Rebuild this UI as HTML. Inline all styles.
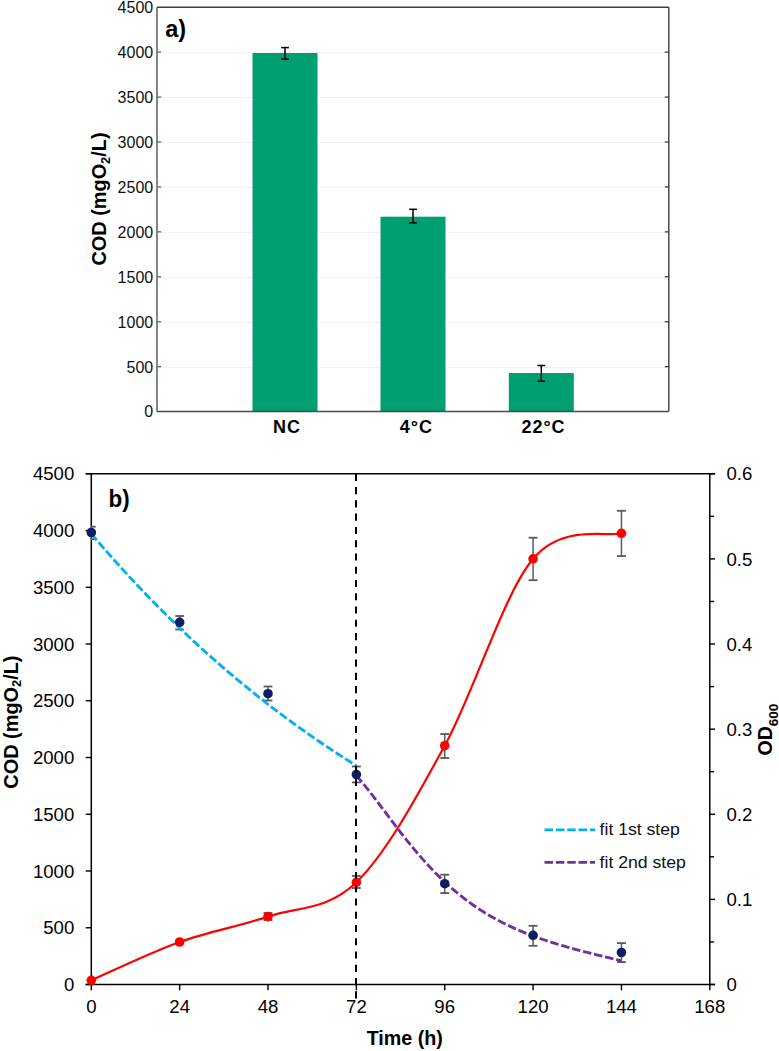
<!DOCTYPE html>
<html><head><meta charset="utf-8"><style>
html,body{margin:0;padding:0;background:#fff;}
svg{display:block;font-family:"Liberation Sans", sans-serif;}
</style></head><body>
<svg width="779" height="1051" viewBox="0 0 779 1051">
<rect width="779" height="1051" fill="#fff"/>
<line x1="158.0" y1="367.5" x2="667.8" y2="367.5" stroke="#e4e4e4" stroke-width="1" stroke-dasharray="1 1"/>
<line x1="158.0" y1="322.5" x2="667.8" y2="322.5" stroke="#e4e4e4" stroke-width="1" stroke-dasharray="1 1"/>
<line x1="158.0" y1="277.5" x2="667.8" y2="277.5" stroke="#e4e4e4" stroke-width="1" stroke-dasharray="1 1"/>
<line x1="158.0" y1="232.5" x2="667.8" y2="232.5" stroke="#e4e4e4" stroke-width="1" stroke-dasharray="1 1"/>
<line x1="158.0" y1="187.5" x2="667.8" y2="187.5" stroke="#e4e4e4" stroke-width="1" stroke-dasharray="1 1"/>
<line x1="158.0" y1="142.5" x2="667.8" y2="142.5" stroke="#e4e4e4" stroke-width="1" stroke-dasharray="1 1"/>
<line x1="158.0" y1="97.5" x2="667.8" y2="97.5" stroke="#e4e4e4" stroke-width="1" stroke-dasharray="1 1"/>
<line x1="158.0" y1="52.5" x2="667.8" y2="52.5" stroke="#e4e4e4" stroke-width="1" stroke-dasharray="1 1"/>
<rect x="252.5" y="53.0" width="65.0" height="358.6" fill="#009f72"/>
<rect x="380.5" y="216.7" width="65.0" height="194.90000000000003" fill="#009f72"/>
<rect x="508.79999999999995" y="373.0" width="65.0" height="38.60000000000002" fill="#009f72"/>
<line x1="157.0" y1="7.2" x2="668.8" y2="7.2" stroke="#3c3c3c" stroke-width="1.4"/>
<line x1="668.8" y1="7.2" x2="668.8" y2="411.6" stroke="#3c3c3c" stroke-width="1.4"/>
<line x1="157.0" y1="7.2" x2="157.0" y2="411.6" stroke="#5e5e5e" stroke-width="1.5"/>
<line x1="157.0" y1="411.6" x2="668.8" y2="411.6" stroke="#4a4a4a" stroke-width="1.5"/>
<line x1="157.0" y1="366.6666666666667" x2="161.2" y2="366.6666666666667" stroke="#6a6a6a" stroke-width="1.3"/>
<line x1="664.8" y1="366.6666666666667" x2="668.8" y2="366.6666666666667" stroke="#3c3c3c" stroke-width="1.3"/>
<line x1="157.0" y1="321.73333333333335" x2="161.2" y2="321.73333333333335" stroke="#6a6a6a" stroke-width="1.3"/>
<line x1="664.8" y1="321.73333333333335" x2="668.8" y2="321.73333333333335" stroke="#3c3c3c" stroke-width="1.3"/>
<line x1="157.0" y1="276.8" x2="161.2" y2="276.8" stroke="#6a6a6a" stroke-width="1.3"/>
<line x1="664.8" y1="276.8" x2="668.8" y2="276.8" stroke="#3c3c3c" stroke-width="1.3"/>
<line x1="157.0" y1="231.86666666666667" x2="161.2" y2="231.86666666666667" stroke="#6a6a6a" stroke-width="1.3"/>
<line x1="664.8" y1="231.86666666666667" x2="668.8" y2="231.86666666666667" stroke="#3c3c3c" stroke-width="1.3"/>
<line x1="157.0" y1="186.93333333333334" x2="161.2" y2="186.93333333333334" stroke="#6a6a6a" stroke-width="1.3"/>
<line x1="664.8" y1="186.93333333333334" x2="668.8" y2="186.93333333333334" stroke="#3c3c3c" stroke-width="1.3"/>
<line x1="157.0" y1="142.0" x2="161.2" y2="142.0" stroke="#6a6a6a" stroke-width="1.3"/>
<line x1="664.8" y1="142.0" x2="668.8" y2="142.0" stroke="#3c3c3c" stroke-width="1.3"/>
<line x1="157.0" y1="97.06666666666666" x2="161.2" y2="97.06666666666666" stroke="#6a6a6a" stroke-width="1.3"/>
<line x1="664.8" y1="97.06666666666666" x2="668.8" y2="97.06666666666666" stroke="#3c3c3c" stroke-width="1.3"/>
<line x1="157.0" y1="52.133333333333326" x2="161.2" y2="52.133333333333326" stroke="#6a6a6a" stroke-width="1.3"/>
<line x1="664.8" y1="52.133333333333326" x2="668.8" y2="52.133333333333326" stroke="#3c3c3c" stroke-width="1.3"/>
<line x1="285.0" y1="47.6" x2="285.0" y2="59.1" stroke="#000" stroke-width="1.5"/>
<line x1="281.1" y1="47.6" x2="288.9" y2="47.6" stroke="#000" stroke-width="1.5"/>
<line x1="281.1" y1="59.1" x2="288.9" y2="59.1" stroke="#000" stroke-width="1.5"/>
<line x1="413.0" y1="209.3" x2="413.0" y2="222.9" stroke="#000" stroke-width="1.5"/>
<line x1="409.1" y1="209.3" x2="416.9" y2="209.3" stroke="#000" stroke-width="1.5"/>
<line x1="409.1" y1="222.9" x2="416.9" y2="222.9" stroke="#000" stroke-width="1.5"/>
<line x1="541.3" y1="365.5" x2="541.3" y2="381.2" stroke="#000" stroke-width="1.5"/>
<line x1="537.4" y1="365.5" x2="545.1999999999999" y2="365.5" stroke="#000" stroke-width="1.5"/>
<line x1="537.4" y1="381.2" x2="545.1999999999999" y2="381.2" stroke="#000" stroke-width="1.5"/>
<text x="153.2" y="417.4" font-size="16" text-anchor="end" fill="#111">0</text>
<text x="153.2" y="372.5" font-size="16" text-anchor="end" fill="#111">500</text>
<text x="153.2" y="327.5" font-size="16" text-anchor="end" fill="#111">1000</text>
<text x="153.2" y="282.6" font-size="16" text-anchor="end" fill="#111">1500</text>
<text x="153.2" y="237.7" font-size="16" text-anchor="end" fill="#111">2000</text>
<text x="153.2" y="192.7" font-size="16" text-anchor="end" fill="#111">2500</text>
<text x="153.2" y="147.8" font-size="16" text-anchor="end" fill="#111">3000</text>
<text x="153.2" y="102.9" font-size="16" text-anchor="end" fill="#111">3500</text>
<text x="153.2" y="57.9" font-size="16" text-anchor="end" fill="#111">4000</text>
<text x="153.2" y="13.0" font-size="16" text-anchor="end" fill="#111">4500</text>
<text x="286.9" y="433.0" font-size="18" letter-spacing="1" font-weight="bold" text-anchor="middle" fill="#000">NC</text>
<text x="416.3" y="433.0" font-size="18" letter-spacing="1" font-weight="bold" text-anchor="middle" fill="#000">4°C</text>
<text x="543.5" y="433.0" font-size="18" letter-spacing="1" font-weight="bold" text-anchor="middle" fill="#000">22°C</text>
<text x="165.2" y="36.7" font-size="24.5" font-weight="bold" fill="#000" transform="translate(165.2,0) scale(0.96,1) translate(-165.2,0)">a)</text>
<text transform="translate(105.9,199.0) rotate(-90)" x="0" y="0" font-size="19.9" font-weight="bold" text-anchor="middle" fill="#000">COD (mgO<tspan font-size="12.8" dy="3.6">2</tspan><tspan dy="-3.6">/L)</tspan></text>
<line x1="85.7" y1="473.8" x2="715.0999999999999" y2="473.8" stroke="#000" stroke-width="1.5"/>
<line x1="85.7" y1="984.5" x2="715.0999999999999" y2="984.5" stroke="#000" stroke-width="1.5"/>
<line x1="91.3" y1="473.8" x2="91.3" y2="984.5" stroke="#000" stroke-width="1.5"/>
<line x1="709.8" y1="473.8" x2="709.8" y2="984.5" stroke="#000" stroke-width="1.5"/>
<line x1="85.7" y1="984.5" x2="91.3" y2="984.5" stroke="#000" stroke-width="1.4"/>
<line x1="85.7" y1="927.7555555555556" x2="91.3" y2="927.7555555555556" stroke="#000" stroke-width="1.4"/>
<line x1="85.7" y1="871.0111111111111" x2="91.3" y2="871.0111111111111" stroke="#000" stroke-width="1.4"/>
<line x1="85.7" y1="814.2666666666667" x2="91.3" y2="814.2666666666667" stroke="#000" stroke-width="1.4"/>
<line x1="85.7" y1="757.5222222222222" x2="91.3" y2="757.5222222222222" stroke="#000" stroke-width="1.4"/>
<line x1="85.7" y1="700.7777777777778" x2="91.3" y2="700.7777777777778" stroke="#000" stroke-width="1.4"/>
<line x1="85.7" y1="644.0333333333333" x2="91.3" y2="644.0333333333333" stroke="#000" stroke-width="1.4"/>
<line x1="85.7" y1="587.2888888888889" x2="91.3" y2="587.2888888888889" stroke="#000" stroke-width="1.4"/>
<line x1="85.7" y1="530.5444444444445" x2="91.3" y2="530.5444444444445" stroke="#000" stroke-width="1.4"/>
<line x1="85.7" y1="473.8" x2="91.3" y2="473.8" stroke="#000" stroke-width="1.4"/>
<line x1="709.8" y1="984.5" x2="715.0999999999999" y2="984.5" stroke="#000" stroke-width="1.4"/>
<line x1="709.8" y1="941.9416666666666" x2="714.0999999999999" y2="941.9416666666666" stroke="#000" stroke-width="1.4"/>
<line x1="709.8" y1="899.3833333333333" x2="715.0999999999999" y2="899.3833333333333" stroke="#000" stroke-width="1.4"/>
<line x1="709.8" y1="856.825" x2="714.0999999999999" y2="856.825" stroke="#000" stroke-width="1.4"/>
<line x1="709.8" y1="814.2666666666667" x2="715.0999999999999" y2="814.2666666666667" stroke="#000" stroke-width="1.4"/>
<line x1="709.8" y1="771.7083333333334" x2="714.0999999999999" y2="771.7083333333334" stroke="#000" stroke-width="1.4"/>
<line x1="709.8" y1="729.15" x2="715.0999999999999" y2="729.15" stroke="#000" stroke-width="1.4"/>
<line x1="709.8" y1="686.5916666666667" x2="714.0999999999999" y2="686.5916666666667" stroke="#000" stroke-width="1.4"/>
<line x1="709.8" y1="644.0333333333333" x2="715.0999999999999" y2="644.0333333333333" stroke="#000" stroke-width="1.4"/>
<line x1="709.8" y1="601.4749999999999" x2="714.0999999999999" y2="601.4749999999999" stroke="#000" stroke-width="1.4"/>
<line x1="709.8" y1="558.9166666666667" x2="715.0999999999999" y2="558.9166666666667" stroke="#000" stroke-width="1.4"/>
<line x1="709.8" y1="516.3583333333333" x2="714.0999999999999" y2="516.3583333333333" stroke="#000" stroke-width="1.4"/>
<line x1="709.8" y1="473.79999999999995" x2="715.0999999999999" y2="473.79999999999995" stroke="#000" stroke-width="1.4"/>
<line x1="91.3" y1="984.5" x2="91.3" y2="990.3" stroke="#000" stroke-width="1.4"/>
<line x1="179.65714285714284" y1="984.5" x2="179.65714285714284" y2="990.3" stroke="#000" stroke-width="1.4"/>
<line x1="268.01428571428573" y1="984.5" x2="268.01428571428573" y2="990.3" stroke="#000" stroke-width="1.4"/>
<line x1="356.37142857142857" y1="984.5" x2="356.37142857142857" y2="990.3" stroke="#000" stroke-width="1.4"/>
<line x1="444.72857142857146" y1="984.5" x2="444.72857142857146" y2="990.3" stroke="#000" stroke-width="1.4"/>
<line x1="533.0857142857143" y1="984.5" x2="533.0857142857143" y2="990.3" stroke="#000" stroke-width="1.4"/>
<line x1="621.4428571428571" y1="984.5" x2="621.4428571428571" y2="990.3" stroke="#000" stroke-width="1.4"/>
<line x1="709.8" y1="984.5" x2="709.8" y2="990.3" stroke="#000" stroke-width="1.4"/>
<text x="74.3" y="991.1" font-size="18.6" text-anchor="end" fill="#000">0</text>
<text x="74.3" y="934.4" font-size="18.6" text-anchor="end" fill="#000">500</text>
<text x="74.3" y="877.6" font-size="18.6" text-anchor="end" fill="#000">1000</text>
<text x="74.3" y="820.9" font-size="18.6" text-anchor="end" fill="#000">1500</text>
<text x="74.3" y="764.1" font-size="18.6" text-anchor="end" fill="#000">2000</text>
<text x="74.3" y="707.4" font-size="18.6" text-anchor="end" fill="#000">2500</text>
<text x="74.3" y="650.6" font-size="18.6" text-anchor="end" fill="#000">3000</text>
<text x="74.3" y="593.9" font-size="18.6" text-anchor="end" fill="#000">3500</text>
<text x="74.3" y="537.1" font-size="18.6" text-anchor="end" fill="#000">4000</text>
<text x="74.3" y="480.4" font-size="18.6" text-anchor="end" fill="#000">4500</text>
<text x="726.5" y="991.1" font-size="18.6" fill="#000">0</text>
<text x="726.5" y="906.0" font-size="18.6" fill="#000">0.1</text>
<text x="726.5" y="820.9" font-size="18.6" fill="#000">0.2</text>
<text x="726.5" y="735.8" font-size="18.6" fill="#000">0.3</text>
<text x="726.5" y="650.6" font-size="18.6" fill="#000">0.4</text>
<text x="726.5" y="565.5" font-size="18.6" fill="#000">0.5</text>
<text x="726.5" y="480.4" font-size="18.6" fill="#000">0.6</text>
<text x="91.3" y="1013.4" font-size="18.6" text-anchor="middle" fill="#000">0</text>
<text x="179.7" y="1013.4" font-size="18.6" text-anchor="middle" fill="#000">24</text>
<text x="268.0" y="1013.4" font-size="18.6" text-anchor="middle" fill="#000">48</text>
<text x="356.4" y="1013.4" font-size="18.6" text-anchor="middle" fill="#000">72</text>
<text x="444.7" y="1013.4" font-size="18.6" text-anchor="middle" fill="#000">96</text>
<text x="533.1" y="1013.4" font-size="18.6" text-anchor="middle" fill="#000">120</text>
<text x="621.4" y="1013.4" font-size="18.6" text-anchor="middle" fill="#000">144</text>
<text x="709.8" y="1013.4" font-size="18.6" text-anchor="middle" fill="#000">168</text>
<text x="404.8" y="1044.9" font-size="19.7" font-weight="bold" text-anchor="middle" fill="#000">Time (h)</text>
<text transform="translate(772,729.6) rotate(-90)" x="0" y="0" font-size="19.6" font-weight="bold" text-anchor="middle" fill="#000">OD<tspan font-size="13.5" dy="5.7">600</tspan></text>
<text transform="translate(17.5,722.1) rotate(-90)" x="0" y="0" font-size="19.9" font-weight="bold" text-anchor="middle" fill="#000">COD (mgO<tspan font-size="12.8" dy="3.6">2</tspan><tspan dy="-3.6">/L)</tspan></text>
<text x="108.6" y="506.7" font-size="24.6" font-weight="bold" fill="#000" transform="translate(108.6,0) scale(0.91,1) translate(-108.6,0)">b)</text>
<path d="M91.30,980.30 C106.03,973.92 150.20,952.62 179.66,942.00 C209.11,931.38 238.56,926.55 268.01,916.60 C297.47,906.65 326.92,910.78 356.37,882.30 C385.82,853.82 415.28,799.62 444.73,745.70 C474.18,691.78 503.63,594.20 533.09,558.80 C562.54,523.40 606.72,537.55 621.44,533.30" fill="none" stroke="#ff0000" stroke-width="2.2"/>
<line x1="91.3" y1="526.7" x2="91.3" y2="539.1" stroke="#5a5a5a" stroke-width="1.5"/>
<line x1="91.3" y1="526.7" x2="95.75" y2="526.7" stroke="#5a5a5a" stroke-width="1.8"/>
<line x1="91.3" y1="539.1" x2="95.75" y2="539.1" stroke="#5a5a5a" stroke-width="1.8"/>
<line x1="179.65714285714284" y1="616.0" x2="179.65714285714284" y2="629.5" stroke="#5a5a5a" stroke-width="1.5"/>
<line x1="175.20714285714286" y1="616.0" x2="184.10714285714283" y2="616.0" stroke="#5a5a5a" stroke-width="1.8"/>
<line x1="175.20714285714286" y1="629.5" x2="184.10714285714283" y2="629.5" stroke="#5a5a5a" stroke-width="1.8"/>
<line x1="268.01428571428573" y1="686.5" x2="268.01428571428573" y2="700.5" stroke="#5a5a5a" stroke-width="1.5"/>
<line x1="263.56428571428575" y1="686.5" x2="272.4642857142857" y2="686.5" stroke="#5a5a5a" stroke-width="1.8"/>
<line x1="263.56428571428575" y1="700.5" x2="272.4642857142857" y2="700.5" stroke="#5a5a5a" stroke-width="1.8"/>
<line x1="356.37142857142857" y1="766.5" x2="356.37142857142857" y2="782.4" stroke="#5a5a5a" stroke-width="1.5"/>
<line x1="351.9214285714286" y1="766.5" x2="360.82142857142856" y2="766.5" stroke="#5a5a5a" stroke-width="1.8"/>
<line x1="351.9214285714286" y1="782.4" x2="360.82142857142856" y2="782.4" stroke="#5a5a5a" stroke-width="1.8"/>
<line x1="444.72857142857146" y1="874.7" x2="444.72857142857146" y2="893.1" stroke="#5a5a5a" stroke-width="1.5"/>
<line x1="440.27857142857147" y1="874.7" x2="449.17857142857144" y2="874.7" stroke="#5a5a5a" stroke-width="1.8"/>
<line x1="440.27857142857147" y1="893.1" x2="449.17857142857144" y2="893.1" stroke="#5a5a5a" stroke-width="1.8"/>
<line x1="533.0857142857143" y1="925.8" x2="533.0857142857143" y2="945.8" stroke="#5a5a5a" stroke-width="1.5"/>
<line x1="528.6357142857142" y1="925.8" x2="537.5357142857143" y2="925.8" stroke="#5a5a5a" stroke-width="1.8"/>
<line x1="528.6357142857142" y1="945.8" x2="537.5357142857143" y2="945.8" stroke="#5a5a5a" stroke-width="1.8"/>
<line x1="621.4428571428571" y1="943.1" x2="621.4428571428571" y2="962.1" stroke="#5a5a5a" stroke-width="1.5"/>
<line x1="616.992857142857" y1="943.1" x2="625.8928571428571" y2="943.1" stroke="#5a5a5a" stroke-width="1.8"/>
<line x1="616.992857142857" y1="962.1" x2="625.8928571428571" y2="962.1" stroke="#5a5a5a" stroke-width="1.8"/>
<line x1="268.01428571428573" y1="913.0" x2="268.01428571428573" y2="920.0" stroke="#5a5a5a" stroke-width="1.5"/>
<line x1="263.56428571428575" y1="913.0" x2="272.4642857142857" y2="913.0" stroke="#5a5a5a" stroke-width="1.8"/>
<line x1="263.56428571428575" y1="920.0" x2="272.4642857142857" y2="920.0" stroke="#5a5a5a" stroke-width="1.8"/>
<line x1="356.37142857142857" y1="876.0" x2="356.37142857142857" y2="888.0" stroke="#5a5a5a" stroke-width="1.5"/>
<line x1="351.9214285714286" y1="876.0" x2="360.82142857142856" y2="876.0" stroke="#5a5a5a" stroke-width="1.8"/>
<line x1="351.9214285714286" y1="888.0" x2="360.82142857142856" y2="888.0" stroke="#5a5a5a" stroke-width="1.8"/>
<line x1="444.72857142857146" y1="734.1" x2="444.72857142857146" y2="758.0" stroke="#5a5a5a" stroke-width="1.5"/>
<line x1="440.27857142857147" y1="734.1" x2="449.17857142857144" y2="734.1" stroke="#5a5a5a" stroke-width="1.8"/>
<line x1="440.27857142857147" y1="758.0" x2="449.17857142857144" y2="758.0" stroke="#5a5a5a" stroke-width="1.8"/>
<line x1="533.0857142857143" y1="537.7" x2="533.0857142857143" y2="580.2" stroke="#5a5a5a" stroke-width="1.5"/>
<line x1="528.6357142857142" y1="537.7" x2="537.5357142857143" y2="537.7" stroke="#5a5a5a" stroke-width="1.8"/>
<line x1="528.6357142857142" y1="580.2" x2="537.5357142857143" y2="580.2" stroke="#5a5a5a" stroke-width="1.8"/>
<line x1="621.4428571428571" y1="510.8" x2="621.4428571428571" y2="556.1" stroke="#5a5a5a" stroke-width="1.5"/>
<line x1="616.992857142857" y1="510.8" x2="625.8928571428571" y2="510.8" stroke="#5a5a5a" stroke-width="1.8"/>
<line x1="616.992857142857" y1="556.1" x2="625.8928571428571" y2="556.1" stroke="#5a5a5a" stroke-width="1.8"/>
<path d="M91.30,533.73 L93.14,535.90 L94.98,538.06 L96.82,540.21 L98.66,542.35 L100.50,544.48 L102.34,546.60 L104.19,548.72 L106.03,550.82 L107.87,552.92 L109.71,555.00 L111.55,557.08 L113.39,559.15 L115.23,561.21 L117.07,563.26 L118.91,565.30 L120.75,567.34 L122.59,569.36 L124.43,571.38 L126.27,573.38 L128.12,575.38 L129.96,577.37 L131.80,579.36 L133.64,581.33 L135.48,583.29 L137.32,585.25 L139.16,587.20 L141.00,589.14 L142.84,591.07 L144.68,592.99 L146.52,594.90 L148.36,596.81 L150.20,598.71 L152.05,600.60 L153.89,602.48 L155.73,604.35 L157.57,606.22 L159.41,608.07 L161.25,609.92 L163.09,611.76 L164.93,613.59 L166.77,615.42 L168.61,617.23 L170.45,619.04 L172.29,620.84 L174.13,622.64 L175.98,624.42 L177.82,626.20 L179.66,627.97 L181.50,629.73 L183.34,631.48 L185.18,633.23 L187.02,634.97 L188.86,636.70 L190.70,638.42 L192.54,640.14 L194.38,641.85 L196.22,643.55 L198.06,645.24 L199.91,646.93 L201.75,648.60 L203.59,650.28 L205.43,651.94 L207.27,653.59 L209.11,655.24 L210.95,656.88 L212.79,658.52 L214.63,660.15 L216.47,661.76 L218.31,663.38 L220.15,664.98 L221.99,666.58 L223.84,668.17 L225.68,669.76 L227.52,671.33 L229.36,672.90 L231.20,674.46 L233.04,676.02 L234.88,677.57 L236.72,679.11 L238.56,680.65 L240.40,682.17 L242.24,683.69 L244.08,685.21 L245.93,686.72 L247.77,688.22 L249.61,689.71 L251.45,691.20 L253.29,692.68 L255.13,694.15 L256.97,695.62 L258.81,697.08 L260.65,698.53 L262.49,699.98 L264.33,701.42 L266.17,702.86 L268.01,704.28 L269.86,705.71 L271.70,707.12 L273.54,708.53 L275.38,709.93 L277.22,711.33 L279.06,712.72 L280.90,714.10 L282.74,715.48 L284.58,716.85 L286.42,718.21 L288.26,719.57 L290.10,720.92 L291.94,722.27 L293.79,723.61 L295.63,724.94 L297.47,726.27 L299.31,727.59 L301.15,728.90 L302.99,730.21 L304.83,731.52 L306.67,732.81 L308.51,734.10 L310.35,735.39 L312.19,736.67 L314.03,737.94 L315.87,739.21 L317.72,740.47 L319.56,741.73 L321.40,742.98 L323.24,744.22 L325.08,745.46 L326.92,746.69 L328.76,747.92 L330.60,749.14 L332.44,750.36 L334.28,751.57 L336.12,752.77 L337.96,753.97 L339.80,755.16 L341.65,756.35 L343.49,757.53 L345.33,758.71 L347.17,759.88 L349.01,761.05 L350.85,762.21 L352.69,763.36 L354.53,764.51 L356.37,765.66" fill="none" stroke="#00b0f0" stroke-width="2.85" stroke-dasharray="8.5 2.85"/>
<path d="M356.37,775.53 L358.21,777.64 L360.05,779.80 L361.89,782.00 L363.73,784.25 L365.58,786.53 L367.42,788.84 L369.26,791.18 L371.10,793.54 L372.94,795.93 L374.78,798.33 L376.62,800.75 L378.46,803.18 L380.30,805.62 L382.14,808.06 L383.98,810.51 L385.82,812.96 L387.66,815.41 L389.51,817.85 L391.35,820.29 L393.19,822.71 L395.03,825.13 L396.87,827.53 L398.71,829.92 L400.55,832.30 L402.39,834.66 L404.23,837.00 L406.07,839.31 L407.91,841.61 L409.75,843.88 L411.59,846.14 L413.44,848.36 L415.28,850.56 L417.12,852.74 L418.96,854.89 L420.80,857.01 L422.64,859.10 L424.48,861.17 L426.32,863.20 L428.16,865.21 L430.00,867.18 L431.84,869.13 L433.68,871.05 L435.52,872.93 L437.37,874.79 L439.21,876.62 L441.05,878.41 L442.89,880.18 L444.73,881.91 L446.57,883.62 L448.41,885.29 L450.25,886.94 L452.09,888.56 L453.93,890.14 L455.77,891.70 L457.61,893.23 L459.45,894.73 L461.30,896.20 L463.14,897.65 L464.98,899.07 L466.82,900.46 L468.66,901.82 L470.50,903.16 L472.34,904.47 L474.18,905.75 L476.02,907.01 L477.86,908.25 L479.70,909.46 L481.54,910.64 L483.38,911.81 L485.23,912.95 L487.07,914.07 L488.91,915.16 L490.75,916.24 L492.59,917.29 L494.43,918.32 L496.27,919.33 L498.11,920.32 L499.95,921.30 L501.79,922.25 L503.63,923.18 L505.47,924.10 L507.31,925.00 L509.16,925.88 L511.00,926.74 L512.84,927.59 L514.68,928.42 L516.52,929.24 L518.36,930.04 L520.20,930.83 L522.04,931.60 L523.88,932.36 L525.72,933.10 L527.56,933.83 L529.40,934.55 L531.24,935.26 L533.09,935.95 L534.93,936.63 L536.77,937.30 L538.61,937.96 L540.45,938.61 L542.29,939.25 L544.13,939.88 L545.97,940.50 L547.81,941.10 L549.65,941.70 L551.49,942.30 L553.33,942.88 L555.17,943.45 L557.02,944.02 L558.86,944.58 L560.70,945.13 L562.54,945.68 L564.38,946.22 L566.22,946.75 L568.06,947.27 L569.90,947.79 L571.74,948.31 L573.58,948.82 L575.42,949.32 L577.26,949.82 L579.11,950.31 L580.95,950.80 L582.79,951.29 L584.63,951.77 L586.47,952.24 L588.31,952.72 L590.15,953.19 L591.99,953.65 L593.83,954.12 L595.67,954.58 L597.51,955.03 L599.35,955.49 L601.19,955.94 L603.04,956.39 L604.88,956.84 L606.72,957.28 L608.56,957.72 L610.40,958.16 L612.24,958.60 L614.08,959.04 L615.92,959.47 L617.76,959.91 L619.60,960.34 L621.44,960.77" fill="none" stroke="#7030a0" stroke-width="2.85" stroke-dasharray="8.5 2.85"/>
<circle cx="91.30" cy="532.5" r="4.8" fill="#0a1f66"/>
<circle cx="179.66" cy="622.3" r="4.8" fill="#0a1f66"/>
<circle cx="268.01" cy="693.7" r="4.8" fill="#0a1f66"/>
<circle cx="356.37" cy="774.6" r="4.8" fill="#0a1f66"/>
<circle cx="444.73" cy="883.7" r="4.8" fill="#0a1f66"/>
<circle cx="533.09" cy="935.4" r="4.8" fill="#0a1f66"/>
<circle cx="621.44" cy="952.5" r="4.8" fill="#0a1f66"/>
<circle cx="91.30" cy="980.3" r="4.8" fill="#ff0000"/>
<circle cx="179.66" cy="942.0" r="4.8" fill="#ff0000"/>
<circle cx="268.01" cy="916.6" r="4.8" fill="#ff0000"/>
<circle cx="356.37" cy="882.3" r="4.8" fill="#ff0000"/>
<circle cx="444.73" cy="745.7" r="4.8" fill="#ff0000"/>
<circle cx="533.09" cy="558.8" r="4.8" fill="#ff0000"/>
<circle cx="621.44" cy="533.3" r="4.8" fill="#ff0000"/>
<line x1="356.0" y1="473.8" x2="356.0" y2="998.4" stroke="#000" stroke-width="2" stroke-dasharray="7.1 6.17"/>
<line x1="544.5" y1="829.8" x2="595.1" y2="829.8" stroke="#00b0f0" stroke-width="2.85" stroke-dasharray="8.5 2.85"/>
<line x1="544.5" y1="862.4" x2="595.1" y2="862.4" stroke="#7030a0" stroke-width="2.85" stroke-dasharray="8.5 2.85"/>
<text x="599.6" y="835.1" font-size="16" textLength="80.2" lengthAdjust="spacingAndGlyphs" fill="#111">fit 1st step</text>
<text x="599.6" y="868.0" font-size="16" textLength="86.3" lengthAdjust="spacingAndGlyphs" fill="#111">fit 2nd step</text>
</svg>
</body></html>
